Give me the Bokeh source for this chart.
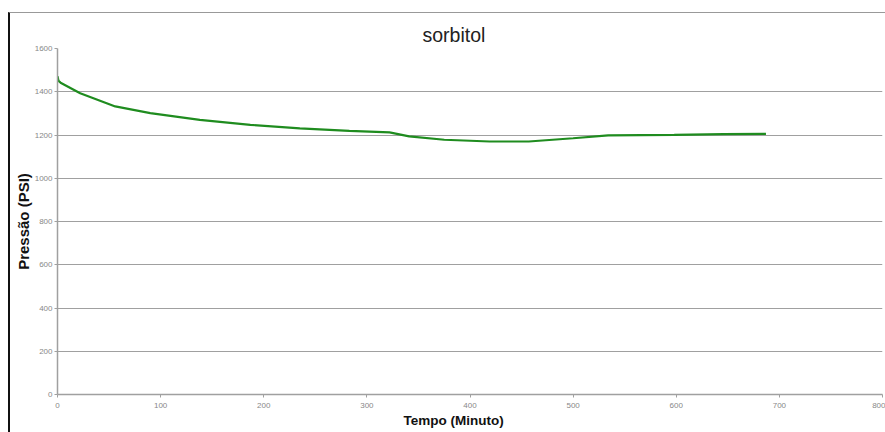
from bokeh.plotting import figure
from bokeh.models import Range1d, FixedTicker, Title
from bokeh.embed import file_html
from bokeh.resources import INLINE

tempo = [0, 1, 3, 22, 56, 90, 138, 187, 235, 283, 322, 341, 375, 419, 457, 500, 534, 598, 646, 687]
pressao = [1472, 1450, 1442, 1393, 1332, 1301, 1270, 1247, 1231, 1219, 1212, 1194, 1178, 1170, 1170, 1185, 1198, 1201, 1204, 1205]
x_ticks = [0, 100, 200, 300, 400, 500, 600, 700, 800]
y_ticks = [0, 200, 400, 600, 800, 1000, 1200, 1400, 1600]

p = figure(width=877, height=420, output_backend="svg", toolbar_location=None,
           x_range=Range1d(0, 800), y_range=Range1d(0, 1600),
           min_border_left=47, min_border_right=5, min_border_top=35, min_border_bottom=39)
p.margin = (12, 0, 0, 8)
p.styles = {"border-left": "2px solid #111111", "border-top": "1px solid #999999"}

p.title.text = "sorbitol"
p.title.align = "left"
p.title.offset = 365
p.title.text_font = "Liberation Sans"
p.title.text_font_size = "19.5px"
p.title.text_font_style = "normal"
p.title.text_color = "#222222"
p.title.standoff = 6

xlabel = Title(text="Tempo (Minuto)", align="left", offset=346, standoff=0,
               text_font="Liberation Sans", text_font_size="13.5px",
               text_font_style="bold", text_color="#111111")
p.add_layout(xlabel, "below")

p.line(tempo, pressao, line_color="#1f8c1f", line_width=2.2)

p.xaxis.ticker = FixedTicker(ticks=x_ticks)
p.yaxis.ticker = FixedTicker(ticks=y_ticks)
p.xgrid.visible = False
p.ygrid.grid_line_color = "#a0a0a0"
p.ygrid.grid_line_width = 1
p.outline_line_color = None

for ax in (p.xaxis, p.yaxis):
    ax.axis_line_color = "#a0a0a0"
    ax.axis_line_width = 1.5
    ax.major_tick_line_color = "#a0a0a0"
    ax.major_tick_in = 0
    ax.major_tick_out = 3
    ax.minor_tick_line_color = None
    ax.major_label_text_font = "Liberation Sans"
    ax.major_label_text_font_size = "8px"
    ax.major_label_text_color = "#888888"
    ax.axis_label_text_font = "Liberation Sans"
    ax.axis_label_text_font_style = "bold"
    ax.axis_label_text_color = "#111111"

p.yaxis.axis_label = "Pressão (PSI)"
p.yaxis.axis_label_text_font_size = "15px"
p.yaxis.major_label_standoff = 2
p.xaxis.major_label_standoff = 5
p.yaxis.axis_label_standoff = 0

open("out.html", "w").write(file_html(p, INLINE))
